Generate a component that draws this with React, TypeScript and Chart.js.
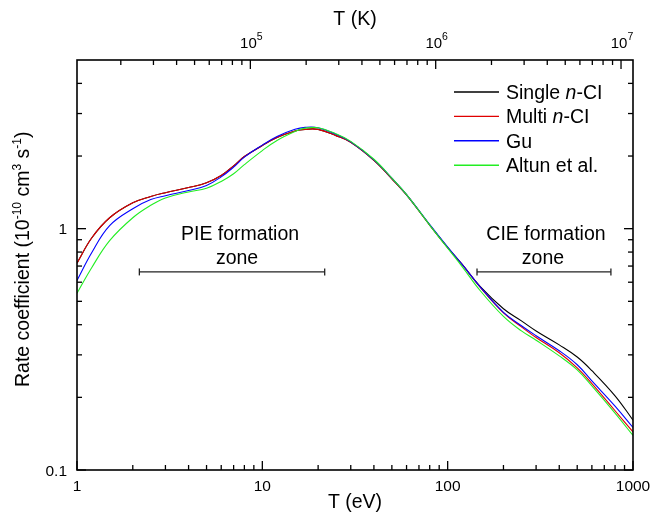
import React, { useEffect, useRef } from "react";
import { Chart, registerables } from "chart.js";

Chart.register(...registerables);

// ---------- data ----------
const energyEV = [1, 1.2, 1.5, 2, 2.5, 3, 4, 5, 6, 7, 8, 10, 12, 15, 17, 20, 25, 30, 40, 50, 60, 80, 100, 120, 150, 200, 250, 300, 400, 500, 600, 800, 1000];
const singleNCI = [0.72, 0.915, 1.11, 1.28, 1.36, 1.41, 1.48, 1.55, 1.66, 1.82, 1.99, 2.21, 2.385, 2.54, 2.58, 2.58, 2.43, 2.28, 1.92, 1.61, 1.38, 1.035, 0.835, 0.709, 0.575, 0.466, 0.415, 0.377, 0.33, 0.294, 0.258, 0.203, 0.161];
const multiNCI = [0.72, 0.915, 1.11, 1.28, 1.36, 1.41, 1.48, 1.55, 1.66, 1.82, 1.99, 2.21, 2.385, 2.54, 2.58, 2.58, 2.43, 2.28, 1.92, 1.61, 1.38, 1.035, 0.835, 0.709, 0.571, 0.448, 0.392, 0.354, 0.306, 0.265, 0.228, 0.176, 0.144];
const guData = [0.61, 0.795, 1.03, 1.21, 1.32, 1.37, 1.44, 1.51, 1.64, 1.8, 1.98, 2.22, 2.41, 2.58, 2.63, 2.62, 2.46, 2.29, 1.93, 1.62, 1.385, 1.04, 0.838, 0.71, 0.573, 0.45, 0.396, 0.36, 0.312, 0.273, 0.234, 0.184, 0.15];
const altunData = [0.54, 0.689, 0.892, 1.11, 1.25, 1.34, 1.42, 1.47, 1.57, 1.69, 1.843, 2.107, 2.32, 2.526, 2.61, 2.62, 2.47, 2.3, 1.94, 1.62, 1.385, 1.035, 0.83, 0.695, 0.553, 0.433, 0.377, 0.345, 0.297, 0.26, 0.223, 0.172, 0.139];

const seriesLabels = ["Single n-CI", "Multi n-CI", "Gu", "Altun et al."];
const seriesColors = ["#000000", "#e00000", "#0000ff", "#22ee22"];

const xTickValues = [1, 10, 100, 1000];
const xTickLabels = ["1", "10", "100", "1000"];
const yTickValues = [0.1, 1];
const yTickLabels = ["0.1", "1"];
const topTickKelvin = [1e5, 1e6, 1e7];
const topTickExponents = ["5", "6", "7"];
const EV_PER_KELVIN = 1 / 11604.518;

const pieZoneEV = [2.17, 21.7];
const cieZoneEV = [144, 760];
const zoneLevel = 0.662;

const FONT = '"Liberation Sans", Arial, Helvetica, sans-serif';

type Run = { t: string; sup?: boolean; italic?: boolean };

function drawRuns(
  ctx: CanvasRenderingContext2D,
  runs: Run[],
  x: number,
  y: number,
  size: number,
  supSize: number,
  supRise: number,
  align: "left" | "center" | "right"
) {
  const fontFor = (r: Run) => `${r.italic ? "italic " : ""}${r.sup ? supSize : size}px ${FONT}`;
  let total = 0;
  const widths: number[] = [];
  for (const r of runs) {
    ctx.font = fontFor(r);
    const w = ctx.measureText(r.t).width;
    widths.push(w);
    total += w;
  }
  let cx = align === "center" ? x - total / 2 : align === "right" ? x - total : x;
  ctx.textAlign = "left";
  ctx.textBaseline = "alphabetic";
  runs.forEach((r, i) => {
    ctx.font = fontFor(r);
    ctx.fillText(r.t, cx, r.sup ? y - supRise : y);
    cx += widths[i];
  });
}

const decorPlugin = {
  id: "decor",
  afterDraw(chart: any) {
    const ctx: CanvasRenderingContext2D = chart.ctx;
    const { left, right, top, bottom } = chart.chartArea;
    const xs = chart.scales.x;
    const ys = chart.scales.y;
    const minor = [2, 3, 4, 5, 6, 7, 8, 9];
    ctx.save();
    ctx.fillStyle = "#000";
    ctx.strokeStyle = "#000";

    const line = (x1: number, y1: number, x2: number, y2: number) => {
      ctx.beginPath();
      ctx.moveTo(x1, y1);
      ctx.lineTo(x2, y2);
      ctx.stroke();
    };

    // ticks
    ctx.lineWidth = 1.3;
    for (const d of [1, 10, 100]) {
      for (const m of minor) {
        const px = xs.getPixelForValue(d * m);
        line(px, bottom, px, bottom - 5);
      }
    }
    xTickValues.forEach((v) => {
      const px = xs.getPixelForValue(v);
      line(px, bottom, px, bottom - 9);
    });
    for (const d of [1e4, 1e5, 1e6]) {
      for (const m of minor) {
        const ev = d * m * EV_PER_KELVIN;
        if (ev < 1 || ev > 1000) continue;
        const px = xs.getPixelForValue(ev);
        line(px, top, px, top + 5);
      }
    }
    topTickKelvin.forEach((k) => {
      const ev = k * EV_PER_KELVIN;
      if (ev < 1 || ev > 1000) return;
      const px = xs.getPixelForValue(ev);
      line(px, top, px, top + 9);
    });
    for (const d of [0.1, 1]) {
      for (const m of minor) {
        const v = d * m;
        if (v >= 5) continue;
        const py = ys.getPixelForValue(v);
        line(left, py, left + 5, py);
        line(right, py, right - 5, py);
      }
    }
    yTickValues.forEach((v) => {
      const py = ys.getPixelForValue(v);
      line(left, py, left + 9, py);
      line(right, py, right - 9, py);
    });

    // frame
    ctx.lineWidth = 1.6;
    ctx.strokeRect(left, top, right - left, bottom - top);

    // tick labels
    ctx.font = `15.5px ${FONT}`;
    ctx.textAlign = "center";
    ctx.textBaseline = "alphabetic";
    xTickValues.forEach((v, i) => {
      ctx.fillText(xTickLabels[i], xs.getPixelForValue(v), bottom + 21);
    });
    ctx.textAlign = "right";
    yTickValues.forEach((v, i) => {
      ctx.fillText(yTickLabels[i], left - 10, ys.getPixelForValue(v) + 5.5);
    });
    topTickKelvin.forEach((k, i) => {
      const px = xs.getPixelForValue(k * EV_PER_KELVIN);
      drawRuns(ctx, [{ t: "10" }, { t: topTickExponents[i], sup: true }], px + 1, top - 12, 15, 10.5, 8, "center");
    });

    // axis titles
    const mid = (left + right) / 2;
    ctx.font = `19.5px ${FONT}`;
    ctx.textAlign = "center";
    ctx.fillText("T (K)", mid, 25);
    ctx.fillText("T (eV)", mid, bottom + 38);

    ctx.save();
    ctx.translate(28.5, 387);
    ctx.rotate(-Math.PI / 2);
    drawRuns(
      ctx,
      [
        { t: "Rate coefficient (10" },
        { t: "-10", sup: true },
        { t: " cm" },
        { t: "3", sup: true },
        { t: " s" },
        { t: "-1", sup: true },
        { t: ")" },
      ],
      0,
      0,
      19.5,
      12,
      8,
      "left"
    );
    ctx.restore();

    // legend
    const legRuns: Run[][] = [
      [{ t: "Single " }, { t: "n", italic: true }, { t: "-CI" }],
      [{ t: "Multi " }, { t: "n", italic: true }, { t: "-CI" }],
      [{ t: "Gu" }],
      [{ t: "Altun et al." }],
    ];
    const lx0 = right - 179;
    const lx1 = right - 134;
    legRuns.forEach((runs, i) => {
      const ly = top + 32 + i * 24.4;
      ctx.strokeStyle = seriesColors[i];
      ctx.lineWidth = 1.4;
      line(lx0, ly, lx1, ly);
      ctx.fillStyle = "#000";
      drawRuns(ctx, runs, right - 127, ly + 7, 19.5, 19.5, 0, "left");
    });

    // formation zones
    const zones: [number[], string, number][] = [
      [pieZoneEV, "PIE formation", 5],
      [cieZoneEV, "CIE formation", -1],
    ];
    zones.forEach(([range, label, dx]) => {
      const x1 = xs.getPixelForValue(range[0]);
      const x2 = xs.getPixelForValue(range[1]);
      const py = ys.getPixelForValue(zoneLevel);
      ctx.strokeStyle = "#222";
      ctx.lineWidth = 1.3;
      line(x1, py, x2, py);
      line(x1, py - 3.5, x1, py + 3.5);
      line(x2, py - 3.5, x2, py + 3.5);
      const cx = (x1 + x2) / 2;
      ctx.fillStyle = "#000";
      ctx.font = `19.5px ${FONT}`;
      ctx.textAlign = "center";
      ctx.fillText(label, cx + dx + 3, py - 32);
      ctx.fillText("zone", cx + dx, py - 8);
    });

    ctx.restore();
  },
};

export default function App() {
  const ref = useRef<HTMLCanvasElement | null>(null);

  useEffect(() => {
    if (!ref.current) return;
    const all = [singleNCI, multiNCI, guData, altunData];
    const orders = [3, 2, 1, 0];
    const chart = new Chart(ref.current, {
      type: "line",
      data: {
        datasets: all.map((vals, i) => ({
          label: seriesLabels[i],
          data: energyEV.map((x, j) => ({ x, y: vals[j] })),
          borderColor: seriesColors[i],
          backgroundColor: seriesColors[i],
          borderWidth: 1.1,
          pointRadius: 0,
          fill: false,
          tension: 0.4,
          order: orders[i],
        })),
      },
      options: {
        animation: false,
        responsive: false,
        layout: { padding: { left: 77, right: 19, top: 60, bottom: 53 } },
        scales: {
          x: { type: "logarithmic", min: 1, max: 1000, display: false },
          y: { type: "logarithmic", min: 0.1, max: 5, display: false },
        },
        plugins: { legend: { display: false }, tooltip: { enabled: false } },
      },
      plugins: [decorPlugin],
    });
    return () => chart.destroy();
  }, []);

  return (
    <div style={{ position: "fixed", left: 0, top: 0, width: 652, height: 523, background: "#fff" }}>
      <canvas ref={ref} width={652} height={523} style={{ width: 652, height: 523 }} />
    </div>
  );
}
